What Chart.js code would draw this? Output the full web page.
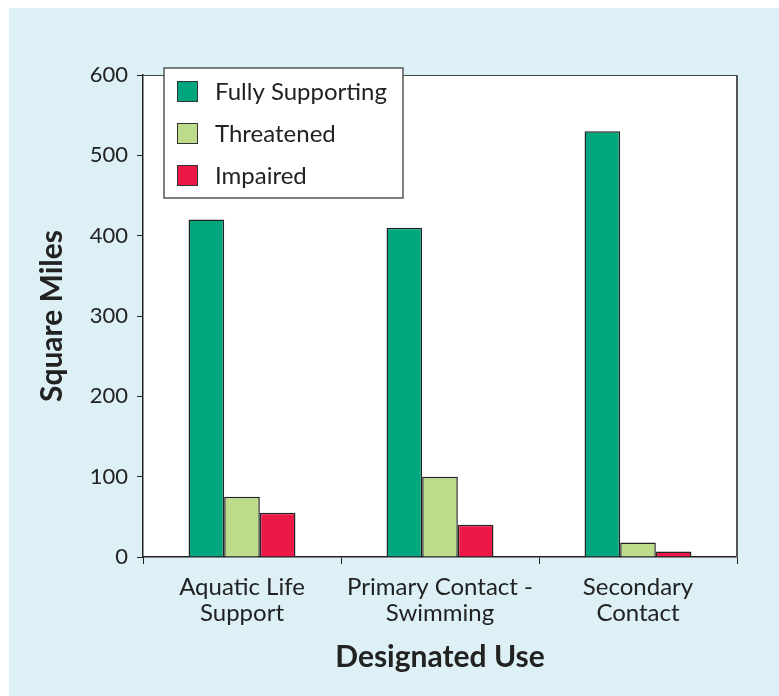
<!DOCTYPE html>
<html>
<head>
<meta charset="utf-8">
<script src="https://cdn.jsdelivr.net/npm/chart.js@4"></script>
<style>
  body { margin: 0; background: #fff; }
  #wrap { width: 779px; height: 696px; }
</style>
</head>
<body>
<div id="wrap"><canvas id="useChart"></canvas></div>
<script>
// Data
const categories = [['Aquatic Life', 'Support'], ['Primary Contact -', 'Swimming'], ['Secondary', 'Contact']];
const fullySupporting = [420, 410, 530];
const threatened = [75, 100, 18];
const impaired = [55, 40, 7];
const yTicks = [0, 100, 200, 300, 400, 500, 600];

const seriesNames = ['Fully Supporting', 'Threatened', 'Impaired'];
const seriesColors = ['#00a67e', '#bcdc8c', '#ee1848'];

const FONT = 'Lato, "Open Sans", sans-serif';

// light blue panel + white plot area
const panelPlugin = {
    id: 'panel',
    beforeDraw(chart) {
        const ctx = chart.ctx;
        const a = chart.chartArea;
        ctx.save();
        ctx.fillStyle = '#ffffff';
        ctx.fillRect(0, 0, chart.width, chart.height);
        ctx.fillStyle = '#ddf0f6';
        ctx.fillRect(9, 8, chart.width - 9, chart.height - 8);
        ctx.fillStyle = '#ffffff';
        ctx.fillRect(a.left, a.top, a.right - a.left, a.bottom - a.top);
        ctx.restore();
    },
    afterDraw(chart) {
        const ctx = chart.ctx;
        const a = chart.chartArea;
        ctx.save();
        // top border
        ctx.strokeStyle = '#444';
        ctx.lineWidth = 1;
        ctx.beginPath();
        ctx.moveTo(a.left, a.top + 0.5);
        ctx.lineTo(a.right, a.top + 0.5);
        ctx.stroke();
        // right border
        ctx.strokeStyle = '#555';
        ctx.lineWidth = 2;
        ctx.beginPath();
        ctx.moveTo(a.right, a.top);
        ctx.lineTo(a.right, a.bottom);
        ctx.stroke();
        ctx.restore();
    }
};

// boxed legend in the upper left of the plot
const boxLegend = {
    id: 'boxLegend',
    afterDraw(chart) {
        const ctx = chart.ctx;
        const x = 164, y = 68, w = 239, h = 130;
        ctx.save();
        ctx.fillStyle = '#fff';
        ctx.fillRect(x, y, w, h);
        ctx.strokeStyle = '#555';
        ctx.lineWidth = 1.5;
        ctx.strokeRect(x, y, w, h);
        ctx.font = '24px ' + FONT;
        ctx.textBaseline = 'middle';
        chart.data.datasets.forEach((ds, i) => {
            const cy = y + 23 + i * 42;
            ctx.fillStyle = ds.backgroundColor;
            ctx.fillRect(x + 13, cy - 10, 20, 20);
            ctx.strokeStyle = '#333';
            ctx.lineWidth = 1;
            ctx.strokeRect(x + 13.5, cy - 9.5, 20, 20);
            ctx.fillStyle = '#222';
            ctx.fillText(ds.label, x + 51, cy + 1);
        });
        ctx.restore();
    }
};

const ctx = document.getElementById('useChart').getContext('2d');
const chart = new Chart(ctx, {
    type: 'bar',
    data: {
        labels: categories,
        datasets: [
            { label: seriesNames[0], data: fullySupporting, backgroundColor: seriesColors[0] },
            { label: seriesNames[1], data: threatened, backgroundColor: seriesColors[1] },
            { label: seriesNames[2], data: impaired, backgroundColor: seriesColors[2] }
        ].map(ds => Object.assign(ds, {
            borderColor: '#222',
            borderWidth: 1.5,
            borderSkipped: 'bottom',
            categoryPercentage: 0.54,
            barPercentage: 1
        }))
    },
    options: {
        responsive: true,
        maintainAspectRatio: false,
        animation: false,
        layout: { padding: { top: 75, right: 42, left: 0, bottom: 0 } },
        plugins: {
            legend: { display: false },
            tooltip: { enabled: false }
        },
        scales: {
            x: {
                afterFit: (s) => { s.height = 139; },
                grid: { offset: true, drawOnChartArea: false, drawTicks: true, tickLength: 7, color: '#222' },
                border: { display: true, color: '#222', width: 1.5 },
                ticks: { color: '#222', padding: 10, font: { family: FONT, size: 24, lineHeight: 1.1 }, maxRotation: 0, autoSkip: false },
                title: {
                    display: true,
                    text: 'Designated Use',
                    color: '#222',
                    font: { family: FONT, size: 30, weight: 'bold' },
                    padding: { top: 0, bottom: 21 }
                }
            },
            y: {
                min: 0,
                max: 600,
                afterFit: (s) => { s.width = 143; },
                afterBuildTicks: (s) => { s.ticks = yTicks.map(v => ({ value: v })); },
                grid: { drawOnChartArea: false, drawTicks: true, tickLength: 6, color: '#222' },
                border: { display: true, color: '#222', width: 1.5 },
                ticks: { color: '#222', padding: 9, font: { family: FONT, size: 22 } },
                title: {
                    display: true,
                    text: 'Square Miles',
                    color: '#222',
                    font: { family: FONT, size: 30, weight: 'bold' },
                    padding: { top: 34, bottom: 0 }
                }
            }
        }
    },
    plugins: [panelPlugin, boxLegend]
});
</script>
</body>
</html>
